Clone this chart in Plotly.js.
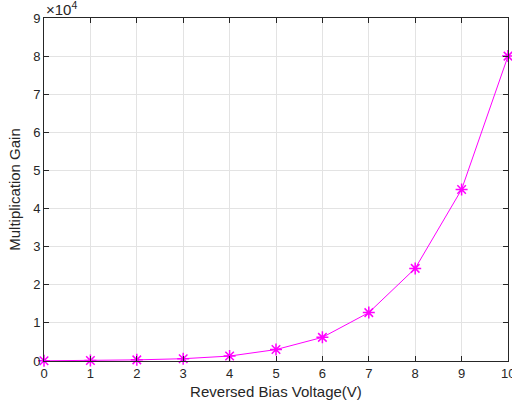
<!DOCTYPE html>
<html><head><meta charset="utf-8">
<script src="https://cdn.plot.ly/plotly-3.0.1.min.js"></script>
<style>body{margin:0;background:#fff}#c{width:512px;height:408px}</style>
</head><body><div id="c"></div>
<script>
const voltage = [0, 1, 2, 3, 4, 5, 6, 7, 8, 9, 10];
const gain = [50, 150, 300, 600, 1300, 3000, 6200, 12700, 24300, 45000, 80000];
const yTickVals = [0, 10000, 20000, 30000, 40000, 50000, 60000, 70000, 80000, 90000];
const yTickText = ['0','1','2','3','4','5','6','7','8','9'];
const xTickVals = [0,1,2,3,4,5,6,7,8,9,10];
const xTickText = ['0','1','2','3','4','5','6','7','8','9',''];
const lastXLabel = '10';

const FONT = 'Liberation Sans, Arial, sans-serif';
const trace = {
  x: voltage, y: gain, type: 'scatter', mode: 'lines+markers',
  line: {color: '#ff00ff', width: 1},
  marker: {symbol: 'asterisk', size: 10, color: '#ff00ff', line: {color: '#ff00ff', width: 1.5}},
  cliponaxis: false
};
const axBase = {
  showline: true, linecolor: '#262626', linewidth: 1, mirror: 'ticks',
  ticks: 'inside', ticklen: 5, tickcolor: '#262626',
  showgrid: true, gridcolor: '#e3e3e3', gridwidth: 1, zeroline: false,
  tickfont: {family: FONT, size: 13, color: '#262626'}
};
const layout = {
  width: 512, height: 408,
  margin: {l: 44, r: 4, t: 18, b: 47},
  paper_bgcolor: '#fff', plot_bgcolor: '#fff',
  showlegend: false,
  xaxis: Object.assign({}, axBase, {
    range: [0, 10], tickvals: xTickVals, ticktext: xTickText,
    title: {text: 'Reversed Bias Voltage(V)', standoff: 6,
      font: {family: FONT, size: 15, color: '#262626'}}
  }),
  yaxis: Object.assign({}, axBase, {
    range: [0, 90000], tickvals: yTickVals, ticktext: yTickText,
    title: {text: 'Multiplication Gain', standoff: 8,
      font: {family: FONT, size: 15, color: '#262626'}}
  }),
  annotations: [{
    xref: 'paper', yref: 'paper', x: 0, y: 1, xanchor: 'left', yanchor: 'bottom',
    xshift: 0, yshift: -2, showarrow: false,
    text: '×10<sup>4</sup>',
    font: {family: FONT, size: 15, color: '#262626'}
  }, {
    xref: 'x', yref: 'paper', x: 10, y: 0, xanchor: 'center', yanchor: 'top',
    yshift: -3, showarrow: false, text: lastXLabel,
    font: {family: FONT, size: 13, color: '#262626'}
  }]
};
Plotly.newPlot('c', [trace], layout, {displayModeBar: false, staticPlot: true});
</script>
</body></html>
